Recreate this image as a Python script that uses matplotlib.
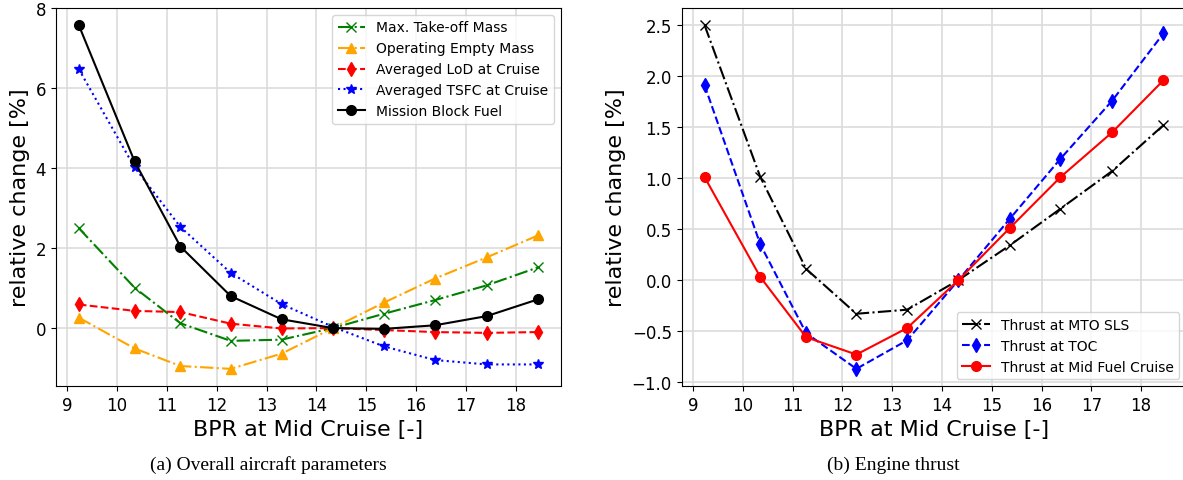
import matplotlib
matplotlib.use("Agg")
import matplotlib.pyplot as plt

bpr = [9.23, 10.35, 11.27, 12.28, 13.30, 14.33, 15.36, 16.38, 17.42, 18.45]

mtom = [2.50, 1.01, 0.12, -0.32, -0.29, 0.0, 0.36, 0.70, 1.07, 1.52]
oem = [0.26, -0.51, -0.95, -1.02, -0.64, 0.0, 0.64, 1.24, 1.77, 2.32]
lod = [0.59, 0.43, 0.40, 0.11, -0.01, 0.0, -0.05, -0.10, -0.12, -0.10]
tsfc = [6.48, 4.02, 2.53, 1.38, 0.60, 0.03, -0.46, -0.80, -0.91, -0.91]
fuel = [7.58, 4.17, 2.04, 0.80, 0.22, 0.0, -0.02, 0.07, 0.30, 0.72]

thr_sls = [2.50, 1.01, 0.11, -0.33, -0.29, 0.0, 0.34, 0.70, 1.07, 1.52]
thr_toc = [1.91, 0.35, -0.52, -0.87, -0.59, 0.0, 0.60, 1.19, 1.76, 2.42]
thr_mid = [1.01, 0.03, -0.56, -0.73, -0.47, 0.0, 0.51, 1.01, 1.45, 1.96]

xlabel = "BPR at Mid Cruise [-]"
ylabel = "relative change [%]"

fig = plt.figure(figsize=(11.83, 4.81), dpi=100)
ax1 = fig.add_axes([0.0472, 0.1954, 0.4271, 0.7859])
ax2 = fig.add_axes([0.5762, 0.1954, 0.4267, 0.7859])

ms = 7
ax1.plot(bpr, mtom, color="green", linestyle="-.", marker="x", ms=ms, label="Max. Take-off Mass")
ax1.plot(bpr, oem, color="orange", linestyle="-.", marker="^", ms=ms, label="Operating Empty Mass")
ax1.plot(bpr, lod, color="red", linestyle="--", marker="d", ms=ms, label="Averaged LoD at Cruise")
ax1.plot(bpr, tsfc, color="blue", linestyle=":", marker="*", ms=ms, label="Averaged TSFC at Cruise")
ax1.plot(bpr, fuel, color="black", linestyle="-", marker="o", ms=ms, label="Mission Block Fuel")
ax1.legend(loc="upper right", fontsize=10)

ax2.plot(bpr, thr_sls, color="black", linestyle="-.", marker="x", ms=ms, label="Thrust at MTO SLS")
ax2.plot(bpr, thr_toc, color="blue", linestyle="--", marker="d", ms=ms, label="Thrust at TOC")
ax2.plot(bpr, thr_mid, color="red", linestyle="-", marker="o", ms=ms, label="Thrust at Mid Fuel Cruise")
ax2.legend(loc="lower right", fontsize=10)

for ax in (ax1, ax2):
    ax.grid(True, color="#dcdcdc", linewidth=1.2)
    ax.set_axisbelow(True)
    ax.set_xticks(range(9, 19))
    ax.tick_params(labelsize=12)
    ax.set_xlabel(xlabel, fontsize=16)
    ax.set_ylabel(ylabel, fontsize=16)

fig.text(0.2265, 0.033, "(a) Overall aircraft parameters", ha="center", va="center",
         family="Liberation Serif", fontsize=14)
fig.text(0.755, 0.033, "(b) Engine thrust", ha="center", va="center",
         family="Liberation Serif", fontsize=14)

fig.savefig("out.png", dpi=100)
